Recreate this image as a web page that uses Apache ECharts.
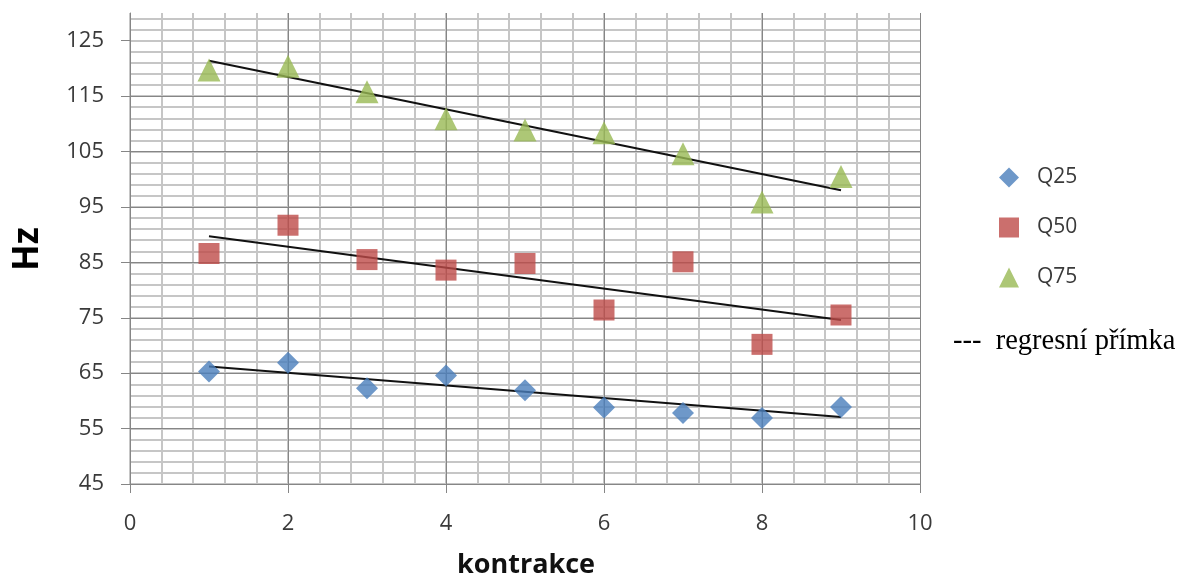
<!DOCTYPE html>
<html>
<head>
    <meta charset="utf-8">
    <title>kontrakce</title>
    <script src="https://cdn.jsdelivr.net/npm/echarts@6/dist/echarts.min.js"></script>
    <style>
        html, body { margin: 0; padding: 0; background: #fff; }
        #chart { width: 1179px; height: 577px; }
    </style>
</head>
<body>
    <div id="chart"></div>
    <script>
    // kontrakce 1..9
    var kontrakce = [1, 2, 3, 4, 5, 6, 7, 8, 9];
    var q25 = [65.3, 66.9, 62.3, 64.6, 61.9, 58.8, 57.8, 56.9, 58.9];
    var q50 = [86.6, 91.7, 85.5, 83.6, 84.8, 76.4, 85.1, 70.2, 75.5];
    var q75 = [119.7, 120.4, 115.8, 110.9, 108.9, 108.4, 104.6, 95.9, 100.5];
    // regression lines, end values at x = 1 and x = 9
    var regX = [1, 9];
    var reg25 = [66.2, 57.1];
    var reg50 = [89.7, 74.6];
    var reg75 = [121.4, 98.0];
    var xTicks = [0, 2, 4, 6, 8, 10];
    var yTicks = [45, 55, 65, 75, 85, 95, 105, 115, 125];

    function pairs(xs, ys) {
        var out = [];
        for (var i = 0; i < xs.length; i++) out.push([xs[i], ys[i]]);
        return out;
    }

    var labelStyle = { fontFamily: "Open Sans", fontSize: 22, color: "#3a3a3a" };
    var minorLine = { show: true, showMaxLine: false, lineStyle: { color: "#c6c6c6", width: 2 } };
    var majorLine = { show: true, lineStyle: { color: "#868686", width: 1 } };

    function regSeries(name, ys) {
        return {
            name: name, type: "line", xAxisIndex: 1, yAxisIndex: 1,
            data: pairs(regX, ys), symbol: "none", silent: true, z: 3,
            lineStyle: { color: "#111", width: 2 }
        };
    }

    var chart = echarts.init(document.getElementById("chart"), null, { renderer: "canvas" });
    chart.setOption({
        animation: false,
        grid: { left: 130, right: 259, top: 13, bottom: 93, outerBoundsMode: "none", containLabel: false },
        legend: {
            orient: "vertical", left: 994, top: 162,
            itemWidth: 20, itemHeight: 20, itemGap: 29,
            data: ["Q25", "Q50", "Q75"],
            textStyle: { fontFamily: "Open Sans", fontSize: 21, color: "#3a3a3a", lineHeight: 20, padding: [0, 0, 0, 13] }
        },
        xAxis: [{
            type: "value", min: 0, max: 10, interval: 0.4, z: 0, position: "bottom",
            axisLine: { show: false }, axisTick: { show: false }, axisLabel: { show: false },
            splitLine: minorLine
        }, {
            type: "value", min: 0, max: 10, interval: 2, z: 1, position: "bottom",
            axisLine: { show: true, lineStyle: { color: "#868686", width: 1 } },
            axisTick: { show: true, inside: false, length: 9, lineStyle: { color: "#868686" }, customValues: xTicks },
            axisLabel: Object.assign({ margin: 29, customValues: xTicks }, labelStyle),
            splitLine: majorLine
        }],
        yAxis: [{
            type: "value", min: 45, max: 130, interval: 2, z: 0, position: "left",
            axisLine: { show: false }, axisTick: { show: false }, axisLabel: { show: false },
            splitLine: minorLine
        }, {
            type: "value", min: 45, max: 130, interval: 10, z: 1, position: "left",
            axisLine: { show: true, lineStyle: { color: "#868686", width: 1 } },
            axisTick: { show: true, inside: false, length: 9, lineStyle: { color: "#868686" }, customValues: yTicks },
            axisLabel: Object.assign({ margin: 26, customValues: yTicks }, labelStyle),
            splitLine: { show: true, showMaxLine: false, lineStyle: { color: "#868686", width: 1 } }
        }],
        graphic: [{
            type: "text", x: 28, y: 249, rotation: Math.PI / 2,
            style: { text: "Hz", fontFamily: "Open Sans", fontWeight: "bold", fontSize: 35, fill: "#000", align: "center", verticalAlign: "middle" }
        }, {
            type: "text", x: 526, y: 565,
            style: { text: "kontrakce", fontFamily: "Open Sans", fontWeight: "bold", fontSize: 27, fill: "#111", align: "center", verticalAlign: "middle" }
        }, {
            type: "text", x: 953, y: 342,
            style: { text: "---  regresní přímka", fontFamily: "Liberation Serif", fontSize: 28.5, fill: "#000", align: "left", verticalAlign: "middle" }
        }],
        series: [
            regSeries("r25", reg25),
            regSeries("r50", reg50),
            regSeries("r75", reg75),
            {
                name: "Q25", type: "scatter", xAxisIndex: 1, yAxisIndex: 1, z: 4,
                symbol: "diamond", symbolSize: 22, itemStyle: { color: "#4a7ebb" },
                data: pairs(kontrakce, q25)
            }, {
                name: "Q50", type: "scatter", xAxisIndex: 1, yAxisIndex: 1, z: 4,
                symbol: "rect", symbolSize: 21, itemStyle: { color: "#be4b48" },
                data: pairs(kontrakce, q50)
            }, {
                name: "Q75", type: "scatter", xAxisIndex: 1, yAxisIndex: 1, z: 4,
                symbol: "triangle", symbolSize: 23, itemStyle: { color: "#98b954" },
                data: pairs(kontrakce, q75)
            }
        ]
    });
    </script>
</body>
</html>
